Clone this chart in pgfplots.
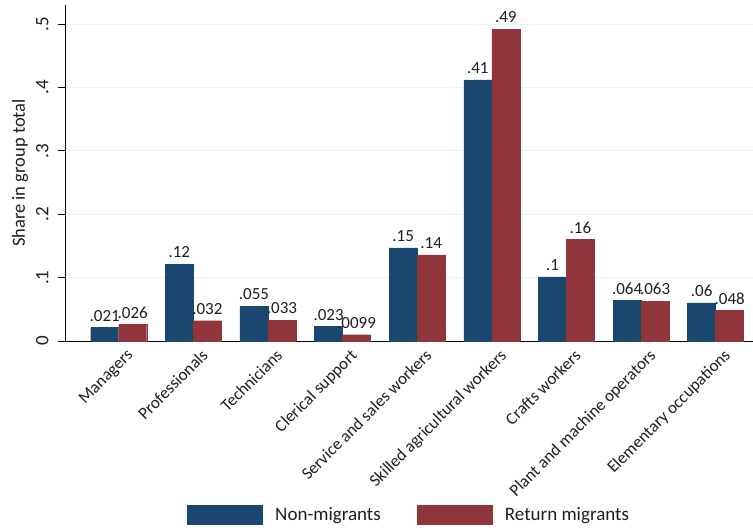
\documentclass[border=0pt]{standalone}
\usepackage{pgfplots}
\pgfplotsset{compat=1.18}
\usepackage{pgfplotstable}
\usepackage{fontspec}
\setmainfont{Carlito}
\definecolor{snavy}{RGB}{26,71,111}
\definecolor{smaroon}{RGB}{144,53,59}
\definecolor{sgrid}{RGB}{234,242,243}
\definecolor{stext}{RGB}{30,30,30}
\pgfplotstableread{
x n r nl rl
0 0.021 0.026 .021 .026
1 0.121 0.032 .12 .032
2 0.055 0.033 .055 .033
3 0.023 0.0099 .023 .0099
4 0.147 0.136 .15 .14
5 0.412 0.492 .41 .49
6 0.101 0.160 .1 .16
7 0.064 0.063 .064 .063
8 0.060 0.048 .06 .048
}\data
\begin{document}
\begin{tikzpicture}[x=1pt,y=1pt]
\path[use as bounding box] (0,0) rectangle (753,531);
\begin{axis}[
  at={(65pt,190pt)}, anchor=south west,
  scale only axis, width=688pt, height=336pt,
  xmin=-0.72, xmax=8.5, ymin=0, ymax=0.53,
  clip=false,
  axis lines*=left,
  axis line style={black, line width=0.8pt},
  ybar=0pt, bar width=28pt,
  ytick={0,0.1,0.2,0.3,0.4,0.5},
  yticklabels={0,.1,.2,.3,.4,.5},
  yticklabel style={rotate=90, anchor=south, font=\fontsize{19}{19}\selectfont, text=stext},
  yticklabel shift=6pt,
  tick align=outside, major tick length=7pt,
  ytick style={black, line width=0.8pt},
  xtick={0,...,8},
  xtick style={draw=none},
  xticklabels={Managers,Professionals,Technicians,Clerical support,Service and sales workers,Skilled agricultural workers,Crafts workers,Plant and machine operators,Elementary occupations},
  xticklabel style={rotate=45, anchor=north east, font=\fontsize{17}{17}\selectfont, text=stext, inner sep=1pt, xshift=6pt, yshift=-4pt},
  ymajorgrids, grid style={sgrid, line width=1pt},
  ylabel={Share in group total},
  ylabel style={font=\fontsize{18.5}{18.5}\selectfont, text=stext, yshift=1pt},
  nodes near coords, point meta=explicit symbolic,
  every node near coord/.append style={font=\fontsize{17}{17}\selectfont, text=stext, anchor=south, inner sep=3pt, yshift=3pt},
  legend columns=2,
  legend style={at={(0.5,-0.518)}, anchor=center, draw=none, fill=none,
    font=\fontsize{19}{19}\selectfont, text=stext,
    /tikz/every even column/.append style={column sep=34pt},
    nodes={inner sep=2pt}},
  legend image code/.code={\fill[#1] (0pt,-9.5pt) rectangle (75pt,9.5pt); \path[draw=none,fill=none] (0pt,0pt) -- (86pt,0pt);},
]
\addplot[fill=snavy, draw=snavy] table[x=x, y=n, meta=nl] \data;
\addplot[fill=smaroon, draw=smaroon] table[x=x, y=r, meta=rl] \data;
\legend{Non-migrants, Return migrants}
\end{axis}
\end{tikzpicture}
\end{document}
